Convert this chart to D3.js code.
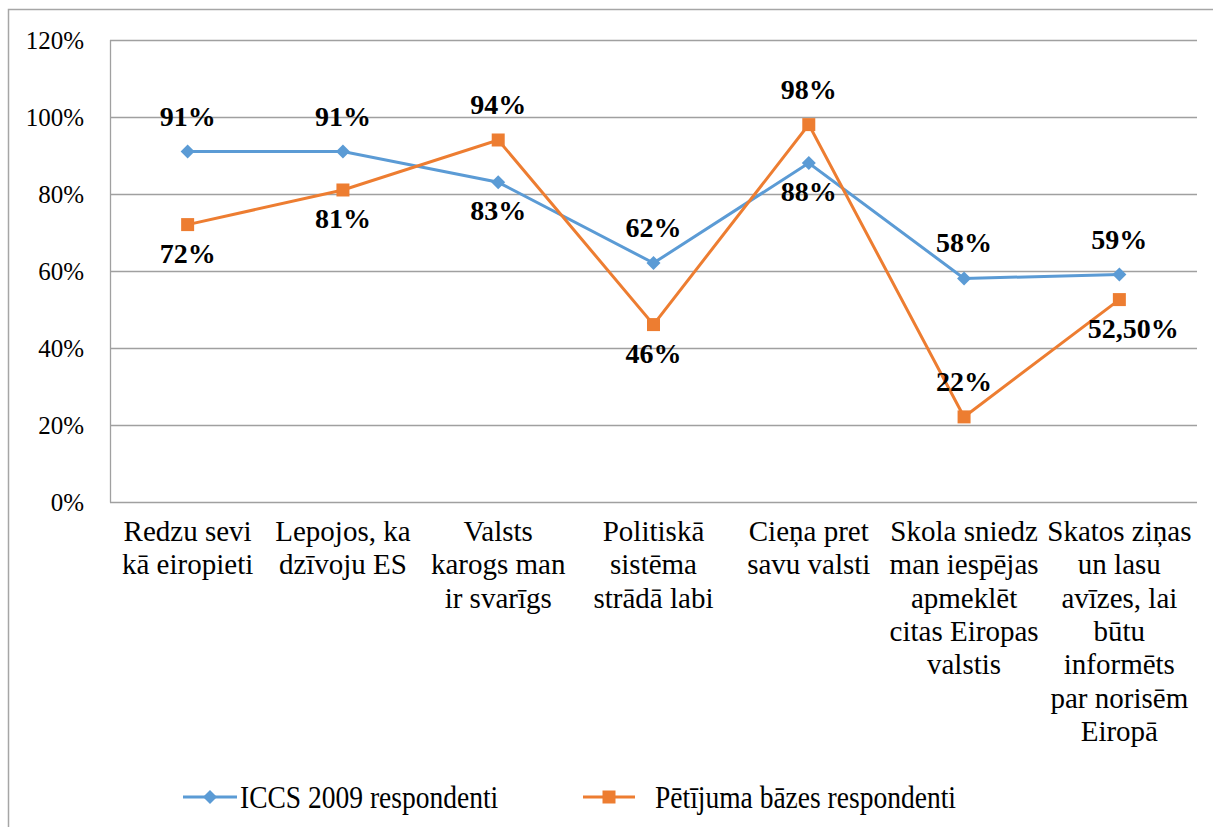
<!DOCTYPE html>
<html>
<head>
<meta charset="utf-8">
<script src="https://cdn.jsdelivr.net/npm/d3@7"></script>
<style>
  body { margin: 0; background: #fff; }
  text { font-family: "Liberation Serif", "Times New Roman", serif; fill: #000; }
</style>
</head>
<body>
<div id="chart"></div>
<script>
var categories = [
  ["Redzu sevi", "kā eiropieti"],
  ["Lepojos, ka", "dzīvoju ES"],
  ["Valsts", "karogs man", "ir svarīgs"],
  ["Politiskā", "sistēma", "strādā labi"],
  ["Cieņa pret", "savu valsti"],
  ["Skola sniedz", "man iespējas", "apmeklēt", "citas Eiropas", "valstis"],
  ["Skatos ziņas", "un lasu", "avīzes, lai", "būtu", "informēts", "par norisēm", "Eiropā"]
];
var iccsValues = [91, 91, 83, 62, 88, 58, 59];
var iccsLabels = ["91%", "91%", "83%", "62%", "88%", "58%", "59%"];
var baseValues = [72, 81, 94, 46, 98, 22, 52.5];
var baseLabels = ["72%", "81%", "94%", "46%", "98%", "22%", "52,50%"];
var yTicks = [0, 20, 40, 60, 80, 100, 120];
var seriesNames = ["ICCS 2009 respondenti", "Pētījuma bāzes respondenti"];

var width = 1213, height = 827;
var margin = { top: 40, right: 16, bottom: 325, left: 110 };
var colors = ["#5b9bd5", "#ed7d31"];
var serif = "'Liberation Serif', 'Times New Roman', serif";

var svg = d3.select("#chart").append("svg")
  .attr("width", width)
  .attr("height", height)
  .attr("font-family", serif);

// outer chart border (runs off the right/bottom edge)
svg.append("rect")
  .attr("x", 8.5).attr("y", 9.5)
  .attr("width", width).attr("height", height)
  .attr("fill", "none")
  .attr("stroke", "#a6a6a6")
  .attr("stroke-width", 1.5);

var x = d3.scaleBand()
  .domain(d3.range(categories.length))
  .range([margin.left, width - margin.right]);
var y = d3.scaleLinear()
  .domain([0, 120])
  .range([height - margin.bottom - 0.5, margin.top]);

var g = svg.append("g");

// gridlines
g.selectAll("line.grid").data(yTicks).enter()
  .append("line")
  .attr("class", "grid")
  .attr("x1", margin.left)
  .attr("x2", width - margin.right)
  .attr("y1", function(d) { return Math.round(y(d)) + 0.5; })
  .attr("y2", function(d) { return Math.round(y(d)) + 0.5; })
  .attr("stroke", "#a0a0a0")
  .attr("stroke-width", 1.3);

g.append("line")
  .attr("x1", margin.left + 0.5).attr("x2", margin.left + 0.5)
  .attr("y1", y(120)).attr("y2", y(0) + 1)
  .attr("stroke", "#a0a0a0")
  .attr("stroke-width", 1.3);

// y tick labels
g.selectAll("text.ytick").data(yTicks).enter()
  .append("text")
  .attr("class", "ytick")
  .attr("x", 84)
  .attr("y", function(d) { return y(d); })
  .attr("dy", "0.36em")
  .attr("text-anchor", "end")
  .attr("font-family", serif)
  .style("font-size", "25px")
  .text(function(d) { return d + "%"; });

// category labels
var cat = g.selectAll("text.cat").data(categories).enter()
  .append("text")
  .attr("class", "cat")
  .attr("text-anchor", "middle")
  .attr("font-family", serif)
  .style("font-size", "29px");
cat.selectAll("tspan").data(function(d, i) {
    return d.map(function(t) { return { t: t, i: i }; });
  }).enter()
  .append("tspan")
  .attr("x", function(d) { return x(d.i) + x.bandwidth() / 2; })
  .attr("y", function(d, j) { return 541 + j * 33.3; })
  .text(function(d) { return d.t; });

var series = [
  { name: seriesNames[0], values: iccsValues, labels: iccsLabels, color: colors[0], marker: "diamond" },
  { name: seriesNames[1], values: baseValues, labels: baseLabels, color: colors[1], marker: "square" }
];

var line = d3.line()
  .x(function(d, i) { return x(i) + x.bandwidth() / 2; })
  .y(function(d) { return y(d); });

function markerPath(type) {
  if (type === "diamond") return "M0,-7L7,0L0,7L-7,0Z";
  return "M-6.5,-6.5H6.5V6.5H-6.5Z";
}

series.forEach(function(s, k) {
  var other = series[1 - k].values;
  g.append("path")
    .datum(s.values)
    .attr("d", line)
    .attr("fill", "none")
    .attr("stroke", s.color)
    .attr("stroke-width", 3);

  g.selectAll("path.m" + k).data(s.values).enter()
    .append("path")
    .attr("class", "m" + k)
    .attr("d", markerPath(s.marker))
    .attr("transform", function(d, i) {
      return "translate(" + (x(i) + x.bandwidth() / 2) + "," + y(d) + ")";
    })
    .attr("fill", s.color);

  // labels: higher series above its point, lower one below (unless near the floor)
  g.selectAll("text.l" + k).data(s.values).enter()
    .append("text")
    .attr("class", "l" + k)
    .attr("text-anchor", "middle")
    .attr("font-family", serif)
    .attr("x", function(d, i) {
      var cx = x(i) + x.bandwidth() / 2;
      return s.labels[i].length > 4 ? cx + 14 : cx;
    })
    .attr("y", function(d, i) {
      var above = d >= other[i] || d < 30;
      return y(d) + (above ? -26 : 38);
    })
    .style("font-size", "28px")
    .style("font-weight", "bold")
    .text(function(d, i) { return s.labels[i]; });
});

// legend
var legend = [
  { x1: 183, x2: 237, tx: 240 },
  { x1: 583, x2: 635, tx: 655 }
];
var ly = 797;
legend.forEach(function(l, k) {
  var s = series[k];
  svg.append("line")
    .attr("x1", l.x1).attr("x2", l.x2)
    .attr("y1", ly).attr("y2", ly)
    .attr("stroke", s.color)
    .attr("stroke-width", 3);
  svg.append("path")
    .attr("d", markerPath(s.marker))
    .attr("transform", "translate(" + ((l.x1 + l.x2) / 2) + "," + ly + ")")
    .attr("fill", s.color);
  svg.append("text")
    .attr("transform", "translate(" + l.tx + "," + (ly + 11) + ") scale(0.86,1)")
    .attr("font-family", serif)
    .style("font-size", "32px")
    .text(s.name);
});
</script>
</body>
</html>
